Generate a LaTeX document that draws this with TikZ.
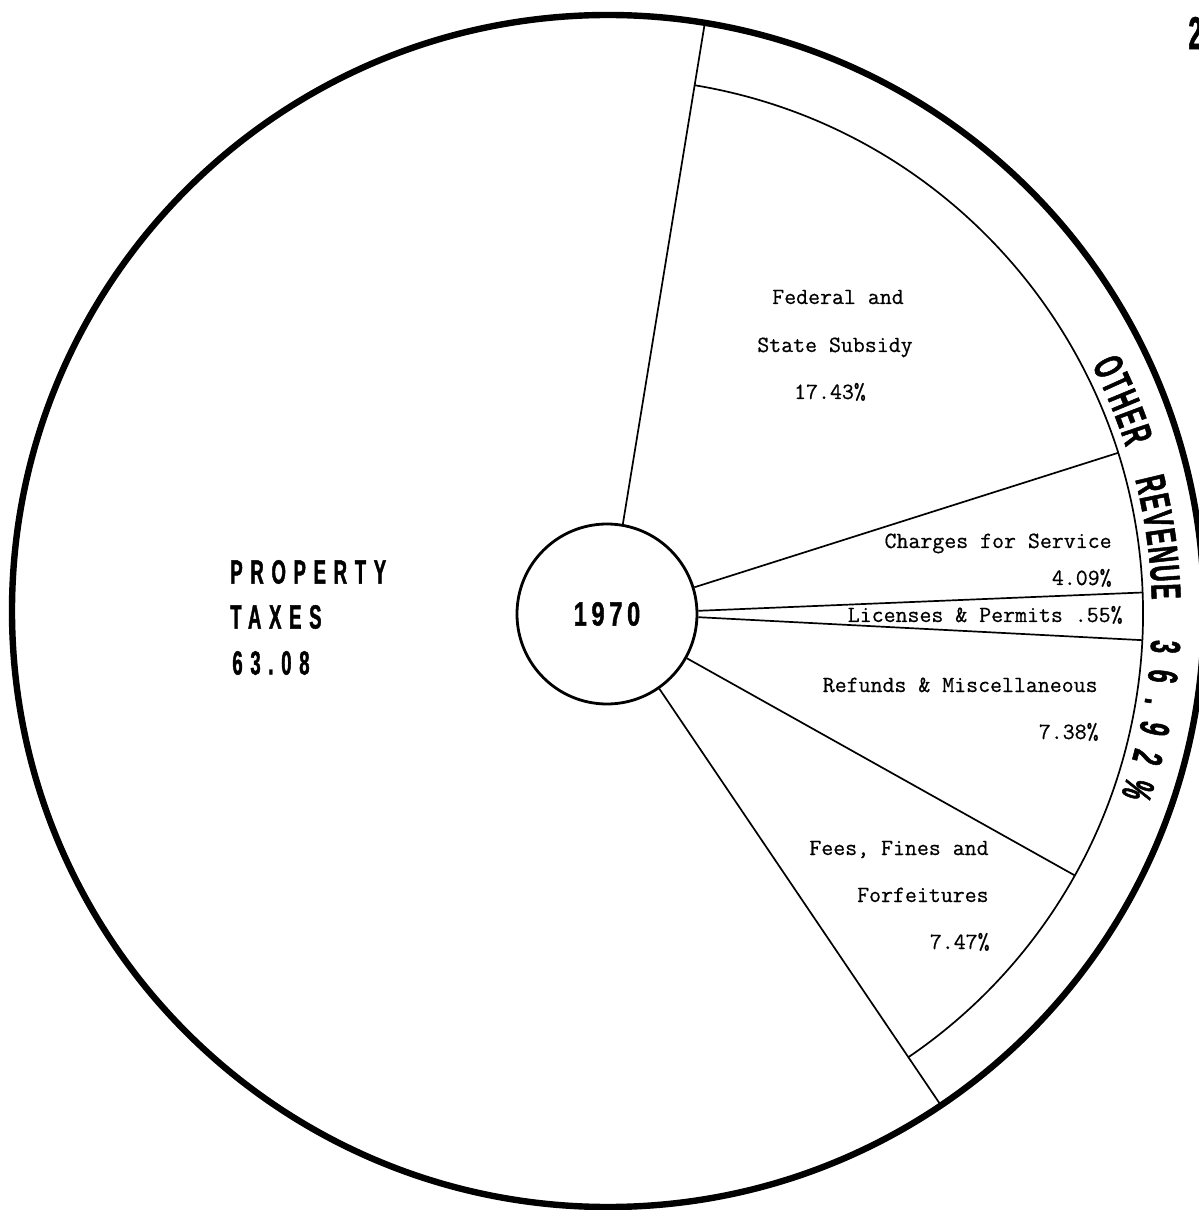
\documentclass[tikz,border=0pt]{standalone}
\usepackage{fontspec}
\usepackage{tikz}
\usetikzlibrary{decorations.text}
\newfontfamily\condbold{Liberation Sans Bold}[FakeStretch=0.55,FakeBold=1.2]
\newfontfamily\yearbold{Liberation Sans Bold}[FakeStretch=0.7,FakeBold=1.2]
\newfontfamily\typewr{Latin Modern Mono}[FakeBold=0.6]
\newcommand{\arcfont}{\condbold\fontsize{21}{21}\selectfont}

\begin{document}
\begin{tikzpicture}[x=0.5pt,y=0.5pt,
  rim/.style={line width=3.2pt},
  spoke/.style={line width=0.85pt},
  tw/.style={font=\typewr\fontsize{11.6}{14}\selectfont,inner sep=0pt},
  heavy/.style={font=\condbold\fontsize{16.8}{20}\selectfont\addfontfeature{LetterSpace=23},inner sep=0pt},
  arcword/.style={decorate,decoration={text along path,text align={fit to path},text={|\arcfont|#1}}}]
  \useasboundingbox (-607,-596) rectangle (592,614);

  \draw[rim] (1,3) circle (596);
  \node[circle,draw,line width=1.4pt,minimum size=90pt,inner sep=0pt,
    font=\yearbold\fontsize{16.8}{20}\selectfont\addfontfeature{LetterSpace=14}] (yr) at (0,0) {1970};

  \coordinate (t1) at (80.6:599);
  \coordinate (t2) at (-55.8:594);
  \draw[spoke] (yr.80.6) -- (t1);
  \draw[spoke] (yr.-55.8) -- (t2);
  \draw[spoke] (80.6:536) arc[start angle=80.6,end angle=-55.8,radius=536];
  \foreach \a/\n in {17.5/fc,2.3/cl,-2.8/lr,-29.2/rf}{
    \coordinate (\n) at (\a:536);
    \draw[spoke] (yr.\a) -- (\n);
  }

  \node[heavy,anchor=west] (pt1) at (-377,42) {PROPERTY};
  \node[heavy,anchor=west] (pt2) at (-377,-3) {TAXES};
  \node[heavy,anchor=west] (pt3) at (-375,-49) {63.08};

  \node[tw,anchor=base] (fs1) at (231,310) {Federal and};
  \node[tw,anchor=base] (fs2) at (228,262) {State Subsidy};
  \node[tw,anchor=base] (fs3) at (223,215) {17.43\%};
  \node[tw,anchor=base east] (cs1) at (505,66) {Charges for Service};
  \node[tw,anchor=base east] (cs2) at (505,29) {4.09\%};
  \node[tw,anchor=base east] (lp) at (516,-8) {Licenses \& Permits .55\%};
  \node[tw,anchor=base east] (rm1) at (491,-78) {Refunds \& Miscellaneous};
  \node[tw,anchor=base east] (rm2) at (492,-125) {7.38\%};
  \node[tw,anchor=base east] (ff1) at (382,-241) {Fees, Fines and};
  \node[tw,anchor=base east] (ff2) at (382,-288) {Forfeitures};
  \node[tw,anchor=base east] (ff3) at (383,-335) {7.47\%};

  \path[arcword=OTHER] (27.2:545) arc[start angle=27.2,end angle=17.8,radius=545];
  \path[arcword=REVENUE] (14.3:545) arc[start angle=14.3,end angle=1.5,radius=545];
  \path[arcword={36.92{\%}}] (-2.7:545) arc[start angle=-2.7,end angle=-19.4,radius=545];

  \node[font=\condbold\fontsize{23}{23}\selectfont,anchor=west,inner sep=0pt] (pg) at (581,581) {2};
\end{tikzpicture}
\end{document}
